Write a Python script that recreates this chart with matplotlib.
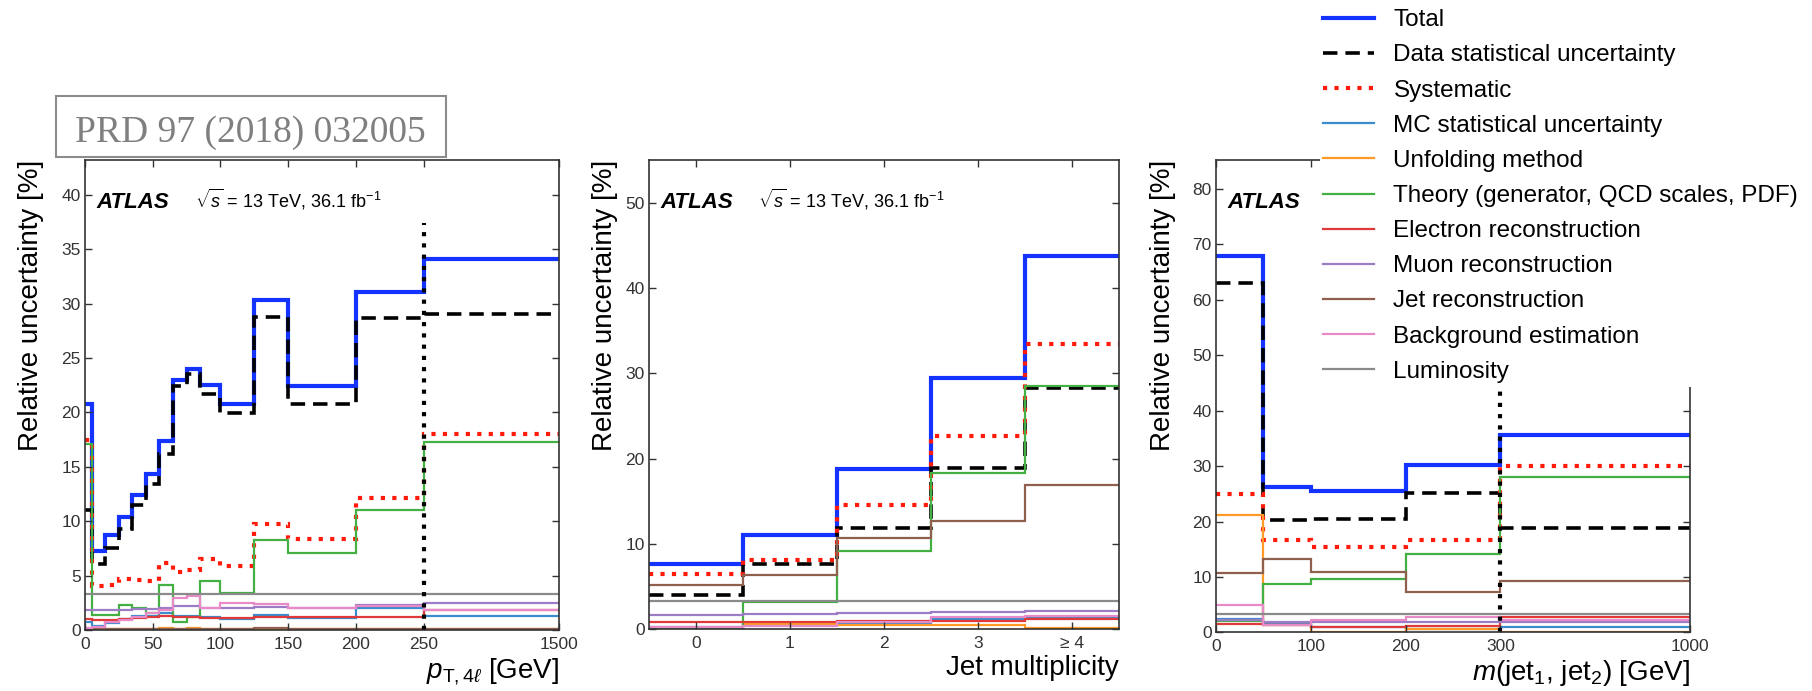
import numpy as np
import matplotlib.pyplot as plt
from matplotlib.lines import Line2D
from matplotlib.patches import Rectangle

plt.rcParams['font.family'] = ['Liberation Sans', 'DejaVu Sans']
plt.rcParams['mathtext.fontset'] = 'custom'
plt.rcParams['mathtext.rm'] = 'Liberation Sans'
plt.rcParams['mathtext.it'] = 'Liberation Sans:italic'
plt.rcParams['mathtext.bf'] = 'Liberation Sans:bold'

# ------------------------------------------
# data: relative uncertainty [%] per bin
# ------------------------------------------
labels = ["Total", "Data statistical uncertainty", "Systematic",
          "MC statistical uncertainty", "Unfolding method",
          "Theory (generator, QCD scales, PDF)", "Electron reconstruction",
          "Muon reconstruction", "Jet reconstruction", "Background estimation",
          "Luminosity"]

# pT,4l [GeV]
pt_edges = [0, 5, 15, 25, 35, 45, 55, 65, 75, 85, 100, 125, 150, 200, 250, 1500]
pt_total = [20.8, 7.3, 8.7, 10.4, 12.4, 14.3, 17.4, 23.0, 24.0, 22.5, 20.8, 30.3, 22.4, 31.1, 34.1]
pt_stat = [11.0, 6.1, 7.5, 9.25, 11.5, 13.4, 16.2, 22.4, 23.5, 21.7, 19.9, 28.8, 20.8, 28.7, 29.0]
pt_syst = [17.5, 4.0, 4.1, 4.7, 4.6, 4.5, 6.2, 5.3, 5.5, 6.5, 5.9, 9.7, 8.4, 12.1, 18.0]
pt_mc = [0.75, 0.35, 0.6, 1.0, 1.3, 1.3, 1.6, 1.3, 1.25, 1.2, 1.0, 1.4, 1.1, 2.0, 1.3]
pt_unf = [0.1, 0.05, 0.05, 0.05, 0.05, 0.05, 0.15, 0.05, 0.15, 0.05, 0.05, 0.05, 0.05, 0.05, 0.1]
pt_theo = [17.1, 1.4, 1.4, 2.3, 2.0, 1.6, 4.1, 0.7, 1.2, 4.5, 3.4, 8.3, 7.1, 11.0, 17.3]
pt_ele = [1.0, 0.9, 0.95, 1.05, 1.1, 1.2, 1.3, 1.2, 1.15, 1.1, 1.1, 1.2, 1.15, 1.15, 1.8]
pt_muo = [1.8, 1.8, 1.8, 1.85, 1.9, 1.9, 2.0, 2.2, 2.2, 2.0, 2.0, 2.1, 2.0, 2.3, 2.45]
pt_jet = [0.1, 0.1, 0.1, 0.1, 0.1, 0.1, 0.1, 0.1, 0.1, 0.1, 0.1, 0.2, 0.1, 0.1, 0.1]
pt_bkg = [0.2, 0.3, 0.7, 0.9, 1.2, 1.6, 1.85, 2.9, 3.1, 2.0, 2.5, 2.4, 2.0, 2.2, 1.85]
pt_lumi = [3.3] * 15

# jet multiplicity
nj_cats = ["0", "1", "2", "3", "≥ 4"]
nj_total = [7.65, 11.0, 18.8, 29.45, 43.7]
nj_stat = [4.0, 7.6, 11.9, 18.9, 28.3]
nj_syst = [6.5, 8.15, 14.6, 22.7, 33.4]
nj_mc = [0.3, 0.5, 0.7, 1.2, 1.3]
nj_unf = [0.1, 0.65, 0.5, 0.5, 0.1]
nj_theo = [0.2, 3.2, 9.2, 18.3, 28.5]
nj_ele = [0.8, 0.8, 0.95, 1.0, 1.2]
nj_muo = [1.7, 1.75, 1.9, 2.05, 2.1]
nj_jet = [5.2, 6.4, 10.7, 12.7, 16.9]
nj_bkg = [0.3, 0.4, 0.8, 1.4, 1.5]
nj_lumi = [3.3] * 5

# m(jet1, jet2) [GeV]
mjj_edges = [0, 50, 100, 200, 300, 1000]
mjj_total = [67.8, 26.3, 25.5, 30.2, 35.6]
mjj_stat = [63.1, 20.3, 20.5, 25.2, 18.9]
mjj_syst = [24.9, 16.7, 15.4, 16.7, 30.1]
mjj_mc = [2.5, 1.6, 0.9, 0.6, 1.0]
mjj_unf = [21.2, 1.4, 0.1, 0.7, 0.1]
mjj_theo = [2.1, 8.8, 9.7, 14.2, 28.1]
mjj_ele = [1.5, 1.4, 1.0, 1.1, 2.8]
mjj_muo = [2.2, 1.8, 1.8, 1.8, 1.8]
mjj_jet = [10.7, 13.3, 10.9, 7.3, 9.3]
mjj_bkg = [4.9, 1.3, 2.2, 2.8, 2.2]
mjj_lumi = [3.3] * 5

# overflow bin boundaries (vertical dotted markers)
pt_overflow = 250
mjj_overflow = 300

# ------------------------------------------
# styles
# ------------------------------------------
colors = ["#1533ff", "black", "#ff1a0a", "#3a8ccc", "#ff9a26", "#44b044",
          "#e0393a", "#9c7cc4", "#90604f", "#e88ac8", "#8a8a8a"]
styles = ["-", (0, (4, 2.2)), (0, (1, 1.75))] + ["-"] * 8
widths = [3.0, 2.6, 3.0] + [1.6] * 8
energy_text = r'$\sqrt{s}$ = 13 TeV, 36.1 fb$^{-1}$'


def pt_fwd(x):
    x = np.asarray(x, float)
    return np.where(x <= 250, x, 250 + (x - 250) * 0.08)


def pt_inv(x):
    x = np.asarray(x, float)
    return np.where(x <= 250, x, 250 + (x - 250) / 0.08)


def mjj_fwd(x):
    x = np.asarray(x, float)
    return np.where(x <= 300, x, 300 + (x - 300) * 2 / 7)


def mjj_inv(x):
    x = np.asarray(x, float)
    return np.where(x <= 300, x, 300 + (x - 300) * 7 / 2)


def draw(ax, edges, series):
    for vals, c, ls, lw in zip(series, colors, styles, widths):
        ax.stairs(vals, edges, baseline=None, color=c, linestyle=ls, linewidth=lw)


def style_axes(ax, ymax, ystep, ylab_x):
    ax.set_ylim(0, ymax)
    ax.set_yticks(np.arange(0, ymax, ystep))
    ax.tick_params(direction='in', top=True, right=True, length=5, width=1.0,
                   colors='#333333', labelsize=12.5)
    ax.tick_params(axis='x', pad=5)
    ax.tick_params(axis='y', pad=3)
    for s in ax.spines.values():
        s.set_color('#333333')
        s.set_linewidth(1.2)
    ax.set_ylabel('Relative uncertainty [%]', loc='top', fontsize=20)
    ax.yaxis.set_label_coords(ylab_x, 1.0)
    ax.text(0.024, 0.898, 'ATLAS', transform=ax.transAxes, fontsize=16,
            fontweight='bold', fontstyle='italic', va='baseline')


fig = plt.figure(figsize=(18.12, 6.91), dpi=100)
ax1 = fig.add_axes([0.0469, 0.0883, 0.2616, 0.6802])
ax2 = fig.add_axes([0.3580, 0.0893, 0.2596, 0.6792])
ax3 = fig.add_axes([0.6711, 0.0847, 0.2616, 0.6838])

# pT,4l
ax1.set_xscale('function', functions=(pt_fwd, pt_inv))
draw(ax1, pt_edges, [pt_total, pt_stat, pt_syst, pt_mc, pt_unf, pt_theo,
                     pt_ele, pt_muo, pt_jet, pt_bkg, pt_lumi])
ax1.plot([pt_overflow, pt_overflow], [0, 37.4], color='black', lw=3,
         linestyle=(0, (1, 1.7)))
ax1.set_xlim(0, 1500)
ax1.set_xticks([0, 50, 100, 150, 200, 250, 1500])
ax1.set_xticklabels(['0', '50', '100', '150', '200', '250', '1500'])
style_axes(ax1, 43.2, 5, -0.087)
ax1.text(0.232, 0.898, energy_text, transform=ax1.transAxes, fontsize=13, va='baseline')
ax1.set_xlabel(r'$p_{\mathrm{T},4\ell}$ [GeV]', loc='right', fontsize=20)
ax1.xaxis.set_label_coords(1.0, -0.055)

# jet multiplicity
nj_edges = np.arange(len(nj_cats) + 1) - 0.5
draw(ax2, nj_edges, [nj_total, nj_stat, nj_syst, nj_mc, nj_unf, nj_theo,
                     nj_ele, nj_muo, nj_jet, nj_bkg, nj_lumi])
ax2.set_xlim(nj_edges[0], nj_edges[-1])
ax2.set_xticks(range(len(nj_cats)))
ax2.set_xticklabels(nj_cats)
style_axes(ax2, 55.0, 10, -0.066)
ax2.text(0.232, 0.898, energy_text, transform=ax2.transAxes, fontsize=13, va='baseline')
ax2.set_xlabel('Jet multiplicity', loc='right', fontsize=20)
ax2.xaxis.set_label_coords(1.0, -0.055)

# m(jet1, jet2) -- its energy label sits under the legend in the original
ax3.set_xscale('function', functions=(mjj_fwd, mjj_inv))
draw(ax3, mjj_edges, [mjj_total, mjj_stat, mjj_syst, mjj_mc, mjj_unf, mjj_theo,
                      mjj_ele, mjj_muo, mjj_jet, mjj_bkg, mjj_lumi])
ax3.plot([mjj_overflow, mjj_overflow], [0, 74], color='black', lw=3,
         linestyle=(0, (1, 1.7)))
ax3.set_xlim(0, 1000)
ax3.set_xticks([0, 100, 200, 300, 1000])
ax3.set_xticklabels(['0', '100', '200', '300', '1000'])
style_axes(ax3, 85.2, 10, -0.084)
ax3.set_xlabel(r'$m$(jet$_1$, jet$_2$) [GeV]', loc='right', fontsize=20)
ax3.xaxis.set_label_coords(1.0, -0.055)

# reference box
fig.add_artist(Rectangle((55.5 / 1812, 1 - 157 / 691), 390 / 1812, 61 / 691,
                         transform=fig.transFigure, facecolor='white',
                         edgecolor='#8c8c8c', linewidth=1.5, zorder=3))
fig.text(250.5 / 1812, 1 - 142 / 691, 'PRD 97 (2018) 032005', fontsize=27,
         family=['Liberation Serif', 'DejaVu Serif'], color='#7f7f7f',
         ha='center', va='baseline', zorder=4)

# legend on a white patch over the right panel
fig.add_artist(Rectangle((0.7285, 0.44), 0.2715, 0.56, transform=fig.transFigure,
                         facecolor='white', edgecolor='none', zorder=3))
handles = [Line2D([], [], color=c, linestyle=ls, linewidth=lw)
           for c, ls, lw in zip(colors, styles, widths)]
fig.legend(handles, labels, loc='upper left', bbox_to_anchor=(0.7301, 0.9865),
           frameon=False, borderpad=0, borderaxespad=0, fontsize=17.5,
           handlelength=2.1, handletextpad=0.8, labelspacing=0.54)

fig.savefig('out.png', dpi=100)
